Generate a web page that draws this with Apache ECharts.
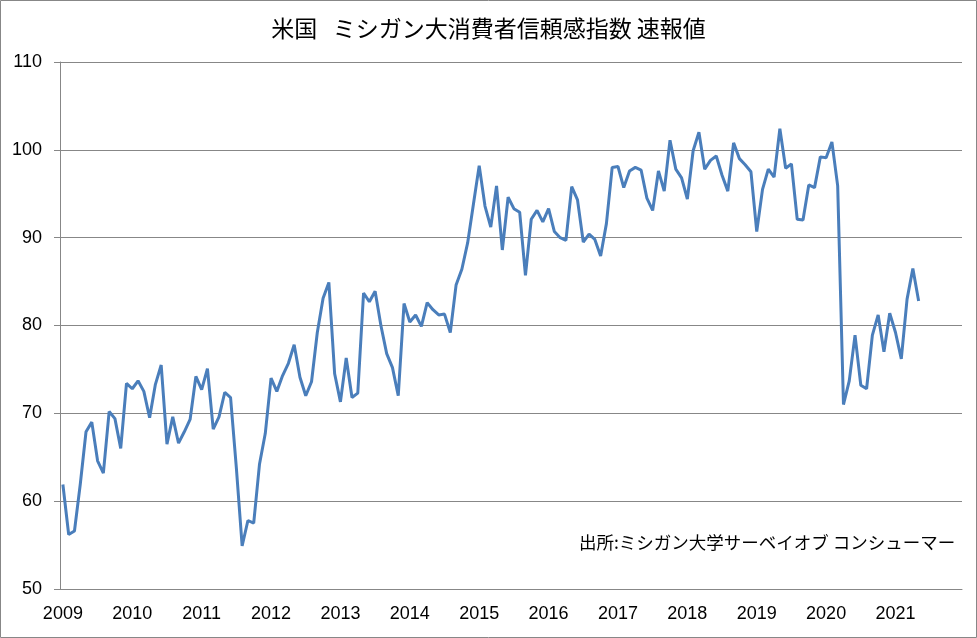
<!DOCTYPE html>
<html>
<head>
<meta charset="utf-8">
<script src="https://cdn.jsdelivr.net/npm/echarts@6/dist/echarts.min.js"></script>
<style>
  html, body { margin: 0; padding: 0; background: #fff; }
  #container { width: 977px; height: 638px; }
</style>
</head>
<body>
<div id="container"></div>
<script>
var dom = document.getElementById('container');
var myChart = echarts.init(dom, null, {
    renderer: 'canvas',
    useDirtyRect: false
});

// 年ごとの速報値（月次）
var years = [2009, 2010, 2011, 2012, 2013, 2014, 2015, 2016, 2017, 2018, 2019, 2020, 2021];
var v2009 = [61.9, 56.2, 56.6, 61.9, 67.9, 69.0, 64.6, 63.2, 70.2, 69.4, 66.0, 73.4];
var v2010 = [72.8, 73.7, 72.5, 69.5, 73.3, 75.5, 66.5, 69.6, 66.6, 67.9, 69.3, 74.2];
var v2011 = [72.7, 75.1, 68.2, 69.6, 72.4, 71.8, 63.8, 54.9, 57.8, 57.5, 64.2, 67.7];
var v2012 = [74.0, 72.5, 74.3, 75.7, 77.8, 74.1, 72.0, 73.6, 79.2, 83.1, 84.9, 74.5];
var v2013 = [71.3, 76.3, 71.8, 72.3, 83.7, 82.7, 83.9, 80.0, 76.8, 75.2, 72.0, 82.5];
var v2014 = [80.4, 81.2, 79.9, 82.6, 81.8, 81.2, 81.3, 79.2, 84.6, 86.4, 89.4, 93.8];
var v2015 = [98.2, 93.6, 91.2, 95.9, 88.6, 94.6, 93.3, 92.9, 85.7, 92.1, 93.1, 91.8];
var v2016 = [93.3, 90.7, 90.0, 89.7, 95.8, 94.3, 89.5, 90.4, 89.8, 87.9, 91.6, 98.0];
var v2017 = [98.1, 95.7, 97.6, 98.0, 97.7, 94.5, 93.1, 97.6, 95.3, 101.1, 97.8, 96.8];
var v2018 = [94.4, 99.9, 102.0, 97.8, 98.8, 99.3, 97.1, 95.3, 100.8, 99.0, 98.3, 97.5];
var v2019 = [90.7, 95.5, 97.8, 96.9, 102.4, 97.9, 98.4, 92.1, 92.0, 96.0, 95.7, 99.2];
var v2020 = [99.1, 100.9, 95.9, 71.0, 73.7, 78.9, 73.2, 72.8, 78.9, 81.2, 77.0, 81.4];
var v2021 = [79.2, 76.2, 83.0, 86.5, 82.8];

var yTicks = [50, 60, 70, 80, 90, 100, 110];

var titleText = '米国   ミシガン大消費者信頼感指数 速報値';
var sourceText = '出所:ミシガン大学サーベイオブ コンシューマー';

// カテゴリ（月）を作る
var months = [];
years.forEach(function (y) {
    for (var m = 1; m <= 12; m++) {
        months.push(y + '-' + (m < 10 ? '0' + m : m));
    }
});
var values = [].concat(v2009, v2010, v2011, v2012, v2013, v2014, v2015,
    v2016, v2017, v2018, v2019, v2020, v2021);

var gray = '#878787';

var option = {
    animation: false,
    backgroundColor: '#fff',
    title: {
        text: titleText,
        left: 'center',
        top: 12,
        textStyle: {
            fontFamily: 'Noto Sans CJK JP',
            fontSize: 23,
            fontWeight: 'normal',
            color: '#000'
        }
    },
    graphic: [
        {
            type: 'rect',
            shape: { x: 0.5, y: 0.5, width: 976, height: 637 },
            style: { fill: 'none', stroke: gray, lineWidth: 1 },
            silent: true
        },
        {
            type: 'text',
            left: 579,
            top: 534,
            style: {
                text: sourceText,
                fontFamily: 'Noto Sans CJK JP',
                fontSize: 17.5,
                fill: '#000'
            }
        }
    ],
    grid: {
        left: 60,
        right: 15,
        top: 62,
        bottom: 49,
        containLabel: false
    },
    xAxis: {
        type: 'category',
        data: months,
        boundaryGap: true,
        axisLine: { lineStyle: { color: gray, width: 1 } },
        axisTick: { interval: 11, length: 6, lineStyle: { color: gray } },
        axisLabel: {
            interval: 11,
            margin: 16,
            color: '#000',
            fontFamily: 'Liberation Sans',
            fontSize: 18,
            formatter: function (v) { return v.slice(0, 4); }
        },
        splitLine: { show: false }
    },
    yAxis: {
        type: 'value',
        min: yTicks[0],
        max: yTicks[yTicks.length - 1],
        interval: 10,
        axisLine: { show: true, lineStyle: { color: gray, width: 1 } },
        axisTick: { show: true, length: 6, lineStyle: { color: gray } },
        axisLabel: {
            margin: 18,
            color: '#000',
            fontFamily: 'Liberation Sans',
            fontSize: 18
        },
        splitLine: { lineStyle: { color: gray, width: 1 } }
    },
    series: [{
        type: 'line',
        data: values,
        showSymbol: false,
        symbol: 'none',
        lineStyle: { color: '#4A7EBB', width: 3 },
        z: 3
    }]
};

myChart.setOption(option);
</script>
</body>
</html>
